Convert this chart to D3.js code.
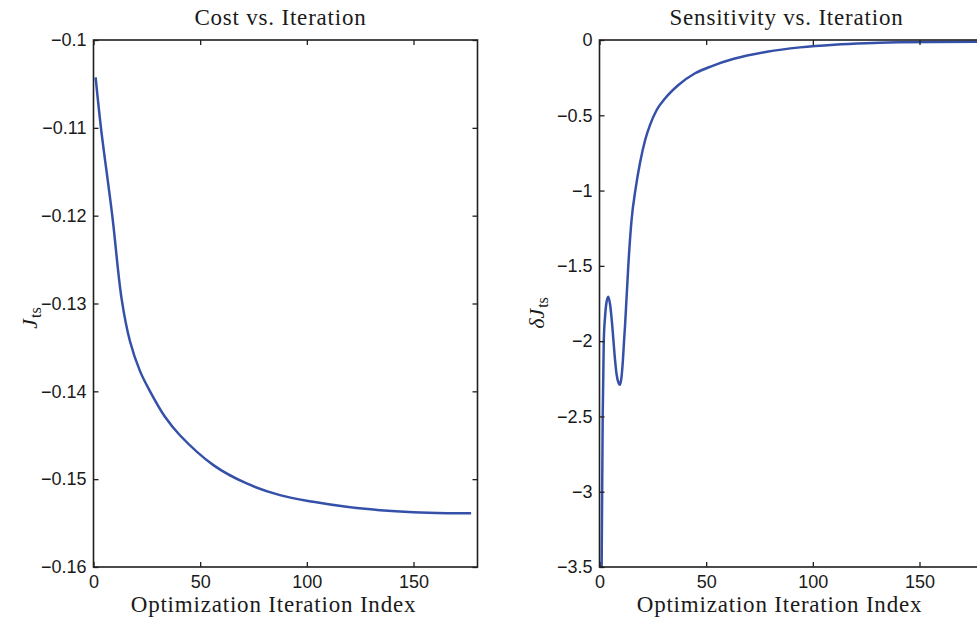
<!DOCTYPE html>
<html>
<head>
<meta charset="utf-8">
<script src="https://cdn.jsdelivr.net/npm/d3@7"></script>
<style>
  body { margin: 0; background: #fff; }
  svg { display: block; }
  .tick-label { font-family: "Liberation Sans", Arial, sans-serif; font-size: 18px; fill: #1a1a1a; }
  .title, .xlabel { font-family: "Liberation Serif", "Times New Roman", serif; font-size: 23px; fill: #1a1a1a; letter-spacing: 0.8px; }
  .ylabel { font-family: "Liberation Serif", serif; fill: #1a1a1a; }
</style>
</head>
<body>
<div id="chart"></div>
<script>
// values
var xTicks = [0, 50, 100, 150];

var costIter = [1, 3.5, 8.8, 13.2, 17.1, 21.8, 26.5, 33.5, 40.5, 56.2, 71.8, 87.4, 103, 118.6, 134.3, 149.9, 165.6, 177];
var costVal  = [-0.10425, -0.11, -0.12, -0.1295, -0.1343, -0.1377, -0.1400, -0.1429, -0.1450, -0.1484, -0.15049, -0.15182, -0.15258, -0.15315, -0.15353, -0.15376, -0.15387, -0.15389];
var costTicks = [-0.1, -0.11, -0.12, -0.13, -0.14, -0.15, -0.16];

var sensIter = [1, 1.5, 2, 2.6, 3.2, 4.1, 5, 6, 7, 8, 9, 9.6, 10.3, 11, 11.5, 12, 12.5, 13.5, 15, 17, 19, 21.4, 23.7, 26.8, 30.8, 37, 44.8, 52.7, 63, 78.5, 94, 110, 125, 141, 157, 177];
var sensVal  = [-3.5, -2.5, -2.0, -1.84, -1.75, -1.705, -1.76, -1.9, -2.08, -2.22, -2.28, -2.29, -2.24, -2.12, -2.0, -1.89, -1.76, -1.50, -1.20, -0.98, -0.815, -0.664, -0.564, -0.465, -0.387, -0.299, -0.221, -0.173, -0.125, -0.078, -0.049, -0.031, -0.021, -0.0155, -0.0125, -0.011];
var sensTicks = [0, -0.5, -1, -1.5, -2, -2.5, -3, -3.5];

var W = 977, H = 623;
var lineColor = "#3550a8";
var frameColor = "#1f1f1f";

var svg = d3.select("#chart").append("svg")
    .attr("width", W)
    .attr("height", H);

var minusFmt = function(d) { return (d < 0 ? "\u2212" : "") + Math.abs(d); };

function drawPanel(p) {
    var x = d3.scaleLinear().domain([0, 180]).range([p.left, p.left + 384]);
    var y = d3.scaleLinear().domain(p.yDomain).range([567, 40]);

    var g = svg.append("g");

    var clipId = "clip" + p.id;
    svg.append("clipPath").attr("id", clipId)
        .append("rect")
        .attr("x", p.left).attr("y", 40)
        .attr("width", 384).attr("height", 527);

    // curve
    var pts = p.iters.map(function(d, i) { return [d, p.vals[i]]; });
    var line = d3.line()
        .x(function(d) { return x(d[0]); })
        .y(function(d) { return y(d[1]); })
        .curve(p.curve);
    g.append("path")
        .datum(pts)
        .attr("clip-path", "url(#" + clipId + ")")
        .attr("d", line)
        .attr("fill", "none")
        .attr("stroke", lineColor)
        .attr("stroke-width", 2.5)
        .attr("stroke-linejoin", "round");

    // axes: ticks point inwards on all four sides
    var tl = 5;
    g.append("g").attr("transform", "translate(0,567)")
        .call(d3.axisBottom(x).tickValues(xTicks).tickSize(-tl).tickPadding(8).tickFormat(d3.format("d")));
    g.append("g").attr("transform", "translate(0,40)")
        .call(d3.axisTop(x).tickValues(xTicks).tickSize(-tl).tickFormat(""));
    g.append("g").attr("transform", "translate(" + p.left + ",0)")
        .call(d3.axisLeft(y).tickValues(p.yTicks).tickSize(-tl).tickPadding(7).tickFormat(minusFmt));
    g.append("g").attr("transform", "translate(" + (p.left + 384) + ",0)")
        .call(d3.axisRight(y).tickValues(p.yTicks).tickSize(-tl).tickFormat(""));

    g.selectAll(".domain").remove();
    g.selectAll(".tick line").attr("stroke", frameColor).attr("stroke-width", 1.3);
    g.selectAll(".tick text").attr("class", "tick-label").attr("fill", null);

    g.append("rect")
        .attr("x", p.left).attr("y", 40)
        .attr("width", 384).attr("height", 527)
        .attr("fill", "none")
        .attr("stroke", frameColor)
        .attr("stroke-width", 1.6);

    var cx = p.left + 192;
    g.append("text").attr("class", "title")
        .attr("x", cx - 5).attr("y", 25)
        .attr("text-anchor", "middle")
        .text(p.title);
    g.append("text").attr("class", "xlabel")
        .attr("x", cx - 12).attr("y", 612)
        .attr("text-anchor", "middle")
        .text("Optimization Iteration Index");

    var yl = g.append("text").attr("class", "ylabel")
        .attr("transform", "translate(" + p.ylx + "," + p.yly + ") rotate(-90)")
        .attr("text-anchor", "middle");
    if (p.delta) yl.append("tspan").attr("font-style", "italic").attr("font-size", 22).text("\u03b4");
    yl.append("tspan").attr("font-style", "italic").attr("font-size", 22).text("J");
    yl.append("tspan").attr("font-size", 16).attr("dx", 1).attr("dy", 4).text("ts");
}

drawPanel({ id: 1, left: 93.5, yDomain: [-0.16, -0.1], yTicks: costTicks,
    iters: costIter, vals: costVal, title: "Cost vs. Iteration",
    curve: d3.curveCatmullRom.alpha(0.5),
    ylx: 37, yly: 318, delta: false });
drawPanel({ id: 2, left: 599.5, yDomain: [-3.5, 0], yTicks: sensTicks,
    iters: sensIter, vals: sensVal, title: "Sensitivity vs. Iteration",
    curve: d3.curveMonotoneX,
    ylx: 544, yly: 313, delta: true });
</script>
</body>
</html>
